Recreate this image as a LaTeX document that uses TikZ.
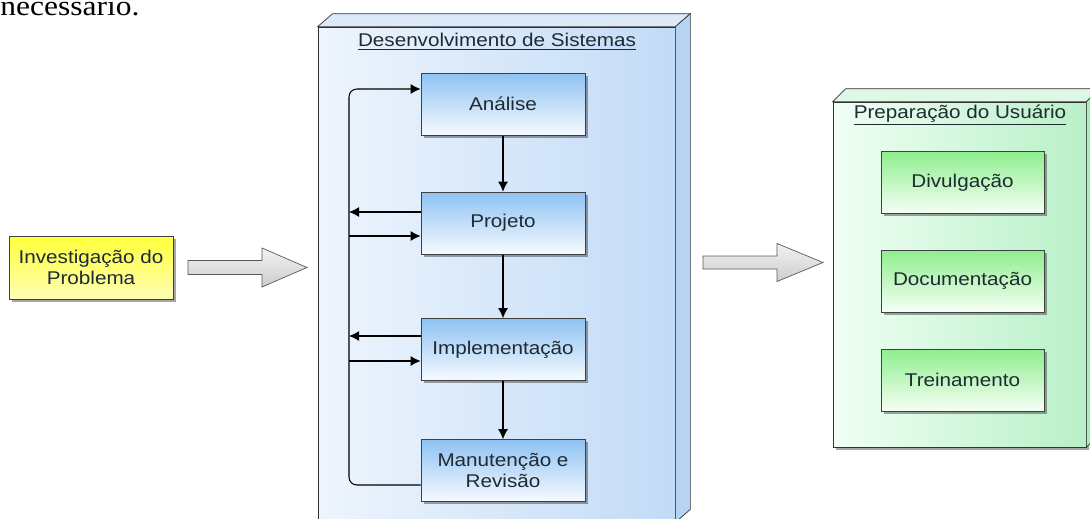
\documentclass[tikz,border=0pt]{standalone}
\usepackage{fontspec}
\setmainfont{Liberation Sans}[FakeStretch=1.12]
\newfontfamily\bodyserif{Liberation Serif}[FakeStretch=1.12]
\usetikzlibrary{shadows}
\usetikzlibrary{arrows.meta}
\pgfdeclarelayer{boxlayer}
\pgfdeclarelayer{edgelayer}
\pgfdeclarelayer{nodelayer}
\pgfsetlayers{boxlayer,edgelayer,nodelayer,main}
\definecolor{inktext}{HTML}{1F2A33}
\definecolor{bluetop}{HTML}{8EC2F2}
\definecolor{bluelow}{HTML}{F6FAFF}
\definecolor{greentop}{HTML}{8EEE8E}
\definecolor{greenlow}{HTML}{F6FFF6}
\definecolor{yellowtop}{HTML}{FFFF3A}
\definecolor{yellowlow}{HTML}{FFFFB4}
\definecolor{bluepackleft}{HTML}{EEF5FD}
\definecolor{bluepackright}{HTML}{C2DBF6}
\definecolor{bluepacktop}{HTML}{DCEAF9}
\definecolor{bluepackside}{HTML}{B6D3F3}
\definecolor{greenpackleft}{HTML}{F0FFF4}
\definecolor{greenpackright}{HTML}{B8F0C8}
\definecolor{greenpacktop}{HTML}{DDF8E4}
\definecolor{greenpackside}{HTML}{A8EDB8}
\tikzstyle{boxshadow}=[drop shadow={shadow xshift=1.5pt, shadow yshift=-1.5pt, fill=black, opacity=0.35}]
\tikzstyle{stepbox}=[rectangle, draw=black!75, text=inktext, align=center, font=\fontsize{10.5}{11.5}\selectfont, minimum height=1.24cm, boxshadow]
\tikzstyle{bluestep}=[stepbox, top color=bluetop, bottom color=bluelow, minimum width=3.28cm]
\tikzstyle{greenstep}=[stepbox, top color=greentop, bottom color=greenlow, minimum width=3.26cm]
\tikzstyle{yellowstep}=[stepbox, top color=yellowtop, bottom color=yellowlow, minimum width=3.28cm, minimum height=1.26cm]
\tikzstyle{package}=[rectangle, draw=black!80, boxshadow]
\tikzstyle{packagetitle}=[text=inktext, font=\fontsize{10.5}{11.5}\selectfont]
\tikzstyle{transition}=[-{Latex[length=2mm,width=2mm]},draw=black,line width=0.6pt]
\tikzstyle{blockarrow}=[draw=black!65, top color=black!5, bottom color=black!20]

\begin{document}
\begin{tikzpicture}
	\useasboundingbox (0, 0) rectangle (21.8, -10.36);
	\node [anchor=base west, inner sep=0, font=\bodyserif\fontsize{16}{18}\selectfont] (14) at (0, -0.3) {necessário.};
	\begin{pgfonlayer}{boxlayer}
		\node [style=package, left color=bluepackleft, right color=bluepackright, minimum width=7.14cm, minimum height=9.9cm] (8) at (9.93, -5.49) {};
		\fill [bluepacktop, draw=black!80] (8.north west) -- ++(0.3, 0.26) -- ([shift={(0.3, 0.26)}]8.north east) -- (8.north east) -- cycle;
		\fill [bluepackside, draw=black!80] (8.north east) -- ++(0.3, 0.26) -- ([shift={(0.3, 0.26)}]8.south east) -- (8.south east) -- cycle;
		\node [style=package, left color=greenpackleft, right color=greenpackright, minimum width=5.06cm, minimum height=6.9cm] (9) at (19.19, -5.49) {};
		\fill [greenpacktop, draw=black!80] (9.north west) -- ++(0.26, 0.26) -- ([shift={(0.26, 0.26)}]9.north east) -- (9.north east) -- cycle;
		\fill [greenpackside, draw=black!80] (9.north east) -- ++(0.26, 0.26) -- ([shift={(0.26, 0.26)}]9.south east) -- (9.south east) -- cycle;
	\end{pgfonlayer}
	\begin{pgfonlayer}{nodelayer}
		\node [style=packagetitle] (10) at (9.94, -0.84) {\underline{Desenvolvimento de Sistemas}};
		\node [style=packagetitle] (11) at (19.2, -2.3) {\underline{Preparação do Usuário}};
		\node [style=yellowstep] (0) at (1.82, -5.35) {Investigação do\\Problema};
		\node [style=bluestep] (1) at (10.06, -2.08) {Análise};
		\node [style=bluestep] (2) at (10.06, -4.46) {Projeto};
		\node [style=bluestep] (3) at (10.06, -6.99) {Implementação};
		\node [style=bluestep] (4) at (10.06, -9.41) {Manutenção e\\Revisão};
		\node [style=greenstep] (5) at (19.25, -3.65) {Divulgação};
		\node [style=greenstep] (6) at (19.25, -5.62) {Documentação};
		\node [style=greenstep] (7) at (19.25, -7.6) {Treinamento};
		\coordinate (12) at (6.98, -1.78);
		\coordinate (13) at (6.98, -9.7);
	\end{pgfonlayer}
	\begin{pgfonlayer}{edgelayer}
		\draw [style=blockarrow] (3.76, -5.21) -- (5.24, -5.21) -- (5.24, -4.96) -- (6.14, -5.35) -- (5.24, -5.74) -- (5.24, -5.49) -- (3.76, -5.49) -- cycle;
		\draw [style=blockarrow] (14.06, -5.12) -- (15.54, -5.12) -- (15.54, -4.87) -- (16.46, -5.25) -- (15.54, -5.63) -- (15.54, -5.38) -- (14.06, -5.38) -- cycle;
		\draw [style=transition] (1) to (2);
		\draw [style=transition] (2) to (3);
		\draw [style=transition] (3) to (4);
		\draw [style=transition, rounded corners=4.5pt] ([yshift=-0.29cm]4.west) -- (13) -- (12) -- ([yshift=0.3cm]1.west);
		\draw [style=transition] ([yshift=0.22cm]2.west) -- ([yshift=0.22cm]2.west -| 12);
		\draw [style=transition] ([yshift=-0.26cm]2.west -| 12) -- ([yshift=-0.26cm]2.west);
		\draw [style=transition] ([yshift=0.27cm]3.west) -- ([yshift=0.27cm]3.west -| 12);
		\draw [style=transition] ([yshift=-0.23cm]3.west -| 12) -- ([yshift=-0.23cm]3.west);
	\end{pgfonlayer}
\end{tikzpicture}
\end{document}
